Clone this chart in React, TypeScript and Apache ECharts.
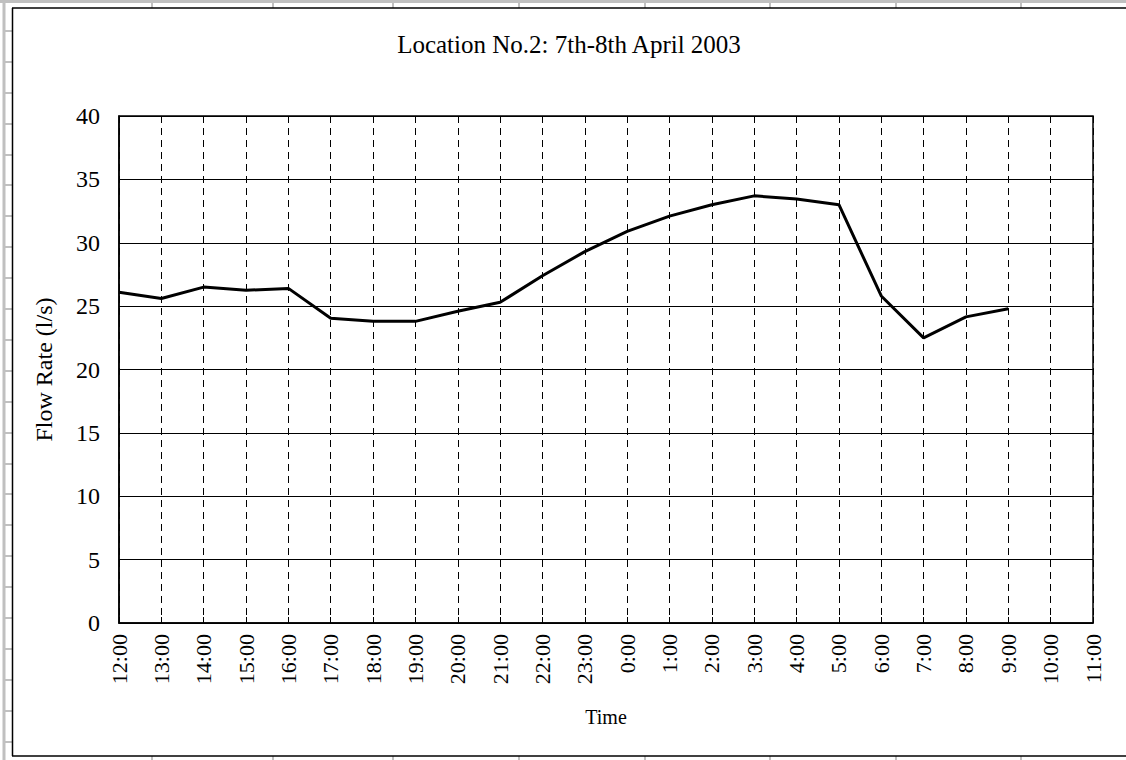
import React, { useEffect, useRef } from "react";
import * as echarts from "echarts";

const categories = [
  "12:00", "13:00", "14:00", "15:00", "16:00", "17:00", "18:00", "19:00",
  "20:00", "21:00", "22:00", "23:00", "0:00", "1:00", "2:00", "3:00",
  "4:00", "5:00", "6:00", "7:00", "8:00", "9:00", "10:00", "11:00",
];
const flowRate: (number | null)[] = [
  26.1, 25.6, 26.5, 26.25, 26.4, 24.05, 23.8, 23.8, 24.6, 25.3, 27.4, 29.3,
  30.9, 32.1, 33.0, 33.7, 33.45, 33.0, 25.8, 22.5, 24.15, 24.8, null, null,
];
const titleText = "Location No.2: 7th-8th April 2003";
const yAxisName = "Flow Rate (l/s)";
const xAxisName = "Time";

const FONT = "'Liberation Serif', 'Times New Roman', serif";
const GRAY = "#c0c0c0";

function sheetDecor() {
  const els: any[] = [];
  els.push({ type: "line", shape: { x1: 0, y1: 1.5, x2: 1126, y2: 1.5 }, style: { stroke: GRAY, lineWidth: 3 } });
  els.push({ type: "line", shape: { x1: 4, y1: 0, x2: 4, y2: 760 }, style: { stroke: GRAY, lineWidth: 3 } });
  const cols = [152, 273, 393, 519, 645, 770, 896, 1021];
  cols.forEach((x) => {
    els.push({ type: "line", shape: { x1: x, y1: 0, x2: x, y2: 8 }, style: { stroke: GRAY, lineWidth: 2 } });
    els.push({ type: "line", shape: { x1: x, y1: 756, x2: x, y2: 760 }, style: { stroke: GRAY, lineWidth: 2 } });
  });
  for (let k = 1; k <= 24; k++) {
    const y = Math.round(k * 30.9);
    els.push({ type: "line", shape: { x1: 4, y1: y, x2: 12, y2: y }, style: { stroke: GRAY, lineWidth: 2 } });
  }
  els.push({ type: "line", shape: { x1: 12, y1: 8, x2: 1126, y2: 8 }, style: { stroke: "#000", lineWidth: 1.5 } });
  els.push({ type: "line", shape: { x1: 12.5, y1: 8, x2: 12.5, y2: 756 }, style: { stroke: "#000", lineWidth: 1.5 } });
  els.push({ type: "line", shape: { x1: 12, y1: 756, x2: 1126, y2: 756 }, style: { stroke: "#000", lineWidth: 1.5 } });
  return els;
}

export default function App() {
  const ref = useRef<HTMLDivElement>(null);
  useEffect(() => {
    if (!ref.current) return;
    const chart = echarts.init(ref.current, null, { renderer: "svg" });
    chart.setOption({
      animation: false,
      backgroundColor: "#fff",
      title: {
        text: titleText,
        left: 564,
        top: 27,
        textAlign: "center",
        textStyle: { fontFamily: FONT, fontSize: 25, fontWeight: "normal", color: "#000" },
      },
      graphic: sheetDecor(),
      grid: { left: 119, top: 116, right: 33, bottom: 137, show: true, borderColor: "#000", borderWidth: 1.5, backgroundColor: "transparent" },
      xAxis: {
        type: "category",
        data: categories,
        boundaryGap: false,
        name: xAxisName,
        nameLocation: "middle",
        nameGap: 84,
        nameTextStyle: { fontFamily: FONT, fontSize: 20, color: "#000" },
        axisLine: { lineStyle: { color: "#000", width: 1.5 } },
        axisTick: { show: true, inside: true, length: 6, lineStyle: { color: "#000" } },
        axisLabel: { rotate: 90, margin: 11, fontFamily: FONT, fontSize: 22, color: "#000" },
        splitLine: { show: true, lineStyle: { color: "#000", width: 1, type: [7, 5] } },
      },
      yAxis: {
        type: "value",
        min: 0,
        max: 40,
        interval: 5,
        name: yAxisName,
        nameLocation: "middle",
        nameGap: 63,
        nameRotate: 90,
        nameTextStyle: { fontFamily: FONT, fontSize: 24, color: "#000" },
        axisLine: { show: true, lineStyle: { color: "#000", width: 1.5 } },
        axisTick: { show: false },
        axisLabel: { margin: 19, fontFamily: FONT, fontSize: 24, color: "#000" },
        splitLine: { show: true, lineStyle: { color: "#000", width: 1 } },
      },
      series: [
        {
          type: "line",
          data: flowRate,
          showSymbol: false,
          symbol: "none",
          connectNulls: false,
          lineStyle: { color: "#000", width: 3 },
        },
      ],
    });
    return () => chart.dispose();
  }, []);
  return <div ref={ref} style={{ position: "fixed", left: 0, top: 0, width: 1126, height: 760 }} />;
}
